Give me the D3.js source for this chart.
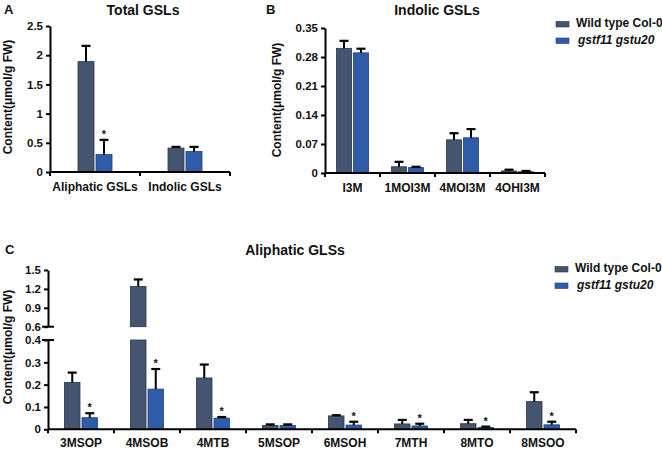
<!DOCTYPE html>
<html><head><meta charset="utf-8">
<script src="https://cdn.jsdelivr.net/npm/d3@7"></script>
<style>
body{margin:0;background:#fff;}
text{font-family:"Liberation Sans",Arial,sans-serif;font-weight:bold;fill:#111;}
</style></head>
<body><svg id="c" width="662" height="450"></svg>
<script>
// ---------- data ----------
const seriesNames = ["Wild type Col-0", "gstf11 gstu20"];
const colors = ["#45546f", "#2f5ca9"];
const strokes = ["#2b3549", "#1f3f7a"];

const catsA = ["Aliphatic GSLs", "Indolic GSLs"];
const wtA = [1.89, 0.41];
const wtErrA = [0.27, 0.02];
const mutA = [0.30, 0.35];
const mutErrA = [0.25, 0.08];
const starA = [true, false];
const ticksA = [0, 0.5, 1, 1.5, 2, 2.5];

const catsB = ["I3M", "1MOI3M", "4MOI3M", "4OHI3M"];
const wtB = [0.301, 0.015, 0.080, 0.005];
const wtErrB = [0.018, 0.012, 0.016, 0.003];
const mutB = [0.290, 0.013, 0.085, 0.003];
const mutErrB = [0.010, 0.002, 0.021, 0.002];
const starB = [false, false, false, false];
const ticksB = [0, 0.07, 0.14, 0.21, 0.28, 0.35];

const catsC = ["3MSOP", "4MSOB", "4MTB", "5MSOP", "6MSOH", "7MTH", "8MTO", "8MSOO"];
const wtC = [0.21, 1.24, 0.23, 0.017, 0.06, 0.024, 0.025, 0.124];
const wtErrC = [0.044, 0.11, 0.06, 0.005, 0.003, 0.018, 0.017, 0.042];
const mutC = [0.052, 0.18, 0.05, 0.017, 0.019, 0.015, 0.008, 0.02];
const mutErrC = [0.02, 0.09, 0.005, 0.005, 0.015, 0.01, 0.004, 0.014];
const starC = [true, true, true, false, true, true, true, true];
const ticksCLow = [0, 0.1, 0.2, 0.3, 0.4];
const ticksCHigh = [0.6, 0.9, 1.2, 1.5];

// ---------- drawing ----------
const svg = d3.select("#c");

function styleAxis(g){
  g.selectAll("path.domain").attr("stroke","#000").attr("stroke-width",2);
  g.selectAll(".tick line").attr("stroke","#000").attr("stroke-width",2);
  g.selectAll("text").attr("font-size",11.5).attr("font-family",'"Liberation Sans",Arial,sans-serif').attr("font-weight","bold").attr("fill","#111");
}

function panel(opt){
  const g = svg.append("g");
  const x = d3.scaleBand().domain(opt.cats).range(opt.xr).padding(0);
  const yf = opt.y; // function value -> pixel
  const bw = opt.bw, gap = 2;
  // bars
  [opt.wt, opt.mut].forEach((vals, s) => {
    vals.forEach((v, i) => {
      const cx = x(opt.cats[i]) + x.bandwidth()/2;
      const bx = s === 0 ? cx - gap/2 - bw : cx + gap/2;
      const segs = opt.segments ? opt.segments(v) : [[0, v]];
      segs.forEach(([a, b]) => {
        g.append("rect").attr("x", bx).attr("width", bw)
          .attr("y", yf(b)).attr("height", yf(a) - yf(b))
          .attr("fill", colors[s]).attr("stroke", strokes[s]).attr("stroke-width", 0.8);
      });
      const e = (s === 0 ? opt.wtErr : opt.mutErr)[i];
      const top = yf(v + e), mid = bx + bw/2;
      g.append("line").attr("x1", mid).attr("x2", mid).attr("y1", yf(v)).attr("y2", top)
        .attr("stroke", "#000").attr("stroke-width", 2);
      g.append("line").attr("x1", mid - 4.5).attr("x2", mid + 4.5).attr("y1", top).attr("y2", top)
        .attr("stroke", "#000").attr("stroke-width", 2.2);
      if (s === 1 && opt.star[i]) {
        g.append("text").attr("x", mid).attr("y", top - 2).attr("text-anchor", "middle")
          .attr("font-size", 11).text("*");
      }
    });
  });
  // x axis
  const y0 = yf(0);
  g.append("line").attr("x1", opt.xr[0]).attr("x2", opt.xr[1]).attr("y1", y0).attr("y2", y0)
    .attr("stroke", "#000").attr("stroke-width", 2);
  const bounds = opt.cats.map(c => x(c)).concat([x(opt.cats[opt.cats.length-1]) + x.bandwidth()]);
  bounds.forEach(b => g.append("line").attr("x1", b).attr("x2", b).attr("y1", y0).attr("y2", y0 + 4)
    .attr("stroke", "#000").attr("stroke-width", 2));
  opt.cats.forEach(c => g.append("text").attr("x", x(c) + x.bandwidth()/2).attr("y", opt.labelY)
    .attr("text-anchor", "middle").attr("font-size", 12).text(c));
  return {g, x};
}

// ---- Panel A ----
const yA = d3.scaleLinear().domain([0, 2.5]).range([172, 26]);
const pA = panel({cats: catsA, wt: wtA, wtErr: wtErrA, mut: mutA, mutErr: mutErrA, star: starA,
  xr: [50, 230], y: yA, bw: 16, labelY: 191});
svg.append("g").attr("transform", "translate(50,0)")
  .call(d3.axisLeft(yA).tickValues(ticksA).tickSize(4).tickSizeOuter(0).tickFormat(d3.format("~g")))
  .call(styleAxis);
svg.append("text").attr("x", 4).attr("y", 14).attr("font-size", 13).text("A");
svg.append("text").attr("x", 143).attr("y", 15).attr("text-anchor", "middle").attr("font-size", 14).text("Total GSLs");
svg.append("text").attr("transform", "translate(12,97) rotate(-90)").attr("text-anchor", "middle")
  .attr("font-size", 12).text("Content(μmol/g FW)");

// ---- Panel B ----
const yB = d3.scaleLinear().domain([0, 0.35]).range([173, 28]);
panel({cats: catsB, wt: wtB, wtErr: wtErrB, mut: mutB, mutErr: mutErrB, star: starB,
  xr: [325, 545], y: yB, bw: 15, labelY: 192});
svg.append("g").attr("transform", "translate(325,0)")
  .call(d3.axisLeft(yB).tickValues(ticksB).tickSize(4).tickSizeOuter(0).tickFormat(d => d === 0 ? "0" : d3.format(".2f")(d)))
  .call(styleAxis);
svg.append("text").attr("x", 266).attr("y", 14).attr("font-size", 13).text("B");
svg.append("text").attr("x", 437).attr("y", 15).attr("text-anchor", "middle").attr("font-size", 14).text("Indolic GSLs");
svg.append("text").attr("transform", "translate(281,100) rotate(-90)").attr("text-anchor", "middle")
  .attr("font-size", 12).text("Content(μmol/g FW)");

// ---- Panel C (broken axis) ----
const yCLo = d3.scaleLinear().domain([0, 0.4]).range([429.3, 340]);
const yCHi = d3.scaleLinear().domain([0.6, 1.5]).range([326.7, 270]);
const yC = v => v <= 0.4 ? yCLo(v) : (v >= 0.6 ? yCHi(v) : yCLo(0.4));
panel({cats: catsC, wt: wtC, wtErr: wtErrC, mut: mutC, mutErr: mutErrC, star: starC,
  xr: [48, 576], y: yC, bw: 15.5, labelY: 447,
  segments: v => v > 0.4 ? [[0, 0.4], [0.6, v]] : [[0, v]]});
svg.append("g").attr("transform", "translate(48,0)")
  .call(d3.axisLeft(yCLo).tickValues(ticksCLow).tickSize(4).tickSizeOuter(0).tickFormat(d3.format("~g")))
  .call(styleAxis);
svg.append("g").attr("transform", "translate(48,0)")
  .call(d3.axisLeft(yCHi).tickValues(ticksCHigh).tickSize(4).tickSizeOuter(0).tickFormat(d3.format(".1f")))
  .call(styleAxis);
// break marks
[yCLo(0.4), yCHi(0.6)].forEach(yy => svg.append("line").attr("x1", 42).attr("x2", 54)
  .attr("y1", yy).attr("y2", yy).attr("stroke", "#000").attr("stroke-width", 2));
svg.append("text").attr("x", 5).attr("y", 254).attr("font-size", 13).text("C");
svg.append("text").attr("x", 295).attr("y", 255).attr("text-anchor", "middle").attr("font-size", 14).text("Aliphatic GLSs");
svg.append("text").attr("transform", "translate(12,347) rotate(-90)").attr("text-anchor", "middle")
  .attr("font-size", 12).text("Content(μmol/g FW)");

// ---- Legends ----
function legend(x0, y0){
  seriesNames.forEach((n, i) => {
    const yy = y0 + i * 16.5;
    svg.append("rect").attr("x", x0).attr("y", yy - 5.5).attr("width", 13).attr("height", 5.5)
      .attr("fill", colors[i]).attr("stroke", strokes[i]).attr("stroke-width", 0.6);
    svg.append("text").attr("x", x0 + (i === 0 ? 20 : 22)).attr("y", yy).attr("font-size", 12)
      .attr("font-style", i === 1 ? "italic" : "normal").text(n);
  });
}
legend(556, 27);
legend(555, 272);
</script></body></html>
